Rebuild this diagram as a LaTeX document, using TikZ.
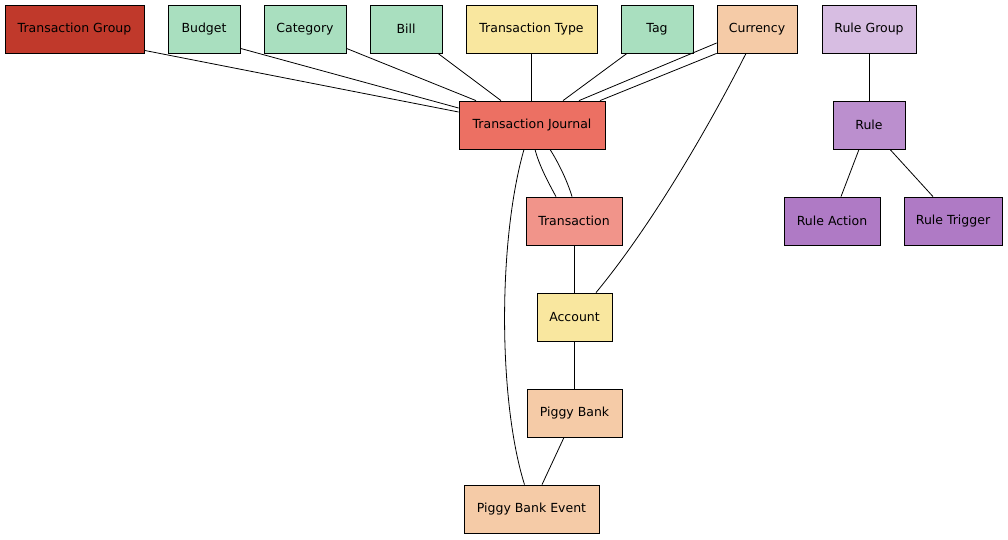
\documentclass[tikz,border=0pt]{standalone}
\usepackage{fontspec}
\setmainfont{DejaVu Sans}
\usetikzlibrary{calc}
\definecolor{cTG}{RGB}{192,57,43}
\definecolor{cGreen}{RGB}{169,223,191}
\definecolor{cYellow}{RGB}{249,231,159}
\definecolor{cOrange}{RGB}{245,203,167}
\definecolor{cTJ}{RGB}{236,112,99}
\definecolor{cTr}{RGB}{241,148,138}
\definecolor{cRG}{RGB}{215,189,226}
\definecolor{cRule}{RGB}{187,143,206}
\definecolor{cRA}{RGB}{175,122,197}
\tikzset{
  ent/.style={draw=black, line width=0.8pt, minimum height=48pt, inner sep=0pt,
    font=\fontsize{12.5}{14}\selectfont},
  link/.style={draw=black, line width=0.8pt},
}
\begin{document}
\begin{tikzpicture}[x=1pt,y=-1pt]
\useasboundingbox (0,0) rectangle (1008,539);
% top row
\node[ent, fill=cTG, minimum width=139pt] (tg) at (74.5,29) {Transaction Group};
\node[ent, fill=cGreen, minimum width=72pt] (bud) at (204,29) {Budget};
\node[ent, fill=cGreen, minimum width=82pt] (cat) at (305,29) {Category};
\node[ent, fill=cGreen, minimum width=72pt] (bill) at (406,29) {Bill};
\node[ent, fill=cYellow, minimum width=131pt] (tt) at (531.5,29) {Transaction Type};
\node[ent, fill=cGreen, minimum width=72pt] (tag) at (657,29) {Tag};
\node[ent, fill=cOrange, minimum width=80pt] (cur) at (757,29) {Currency};
\node[ent, fill=cRG, minimum width=94pt] (rg) at (869,29) {Rule Group};
% second row
\node[ent, fill=cTJ, minimum width=146pt] (tj) at (532,125) {Transaction Journal};
\node[ent, fill=cRule, minimum width=72pt] (rule) at (869,125) {Rule};
% third row
\node[ent, fill=cTr, minimum width=96pt] (tr) at (574,221) {Transaction};
\node[ent, fill=cRA, minimum width=96pt] (ra) at (832,221) {Rule Action};
\node[ent, fill=cRA, minimum width=98pt] (rt) at (953,221) {Rule Trigger};
% lower
\node[ent, fill=cYellow, minimum width=75pt] (acc) at (574.5,317) {Account};
\node[ent, fill=cOrange, minimum width=95pt] (pb) at (574.5,413) {Piggy Bank};
\node[ent, fill=cOrange, minimum width=135pt] (pbe) at (531.5,509) {Piggy Bank Event};
% edges
\draw[link] ([yshift=3pt]tg.south east) -- ([yshift=13pt]tj.west);
\draw[link] ([yshift=5pt]bud.south east) -- ([yshift=17pt]tj.west);
\draw[link] ([yshift=5pt]cat.south east) -- ([xshift=-56pt]tj.north);
\draw[link] ([xshift=32pt]bill.south) -- ([xshift=-31pt]tj.north);
\draw[link] (tt.south) -- (tt.south |- tj.north);
\draw[link] ([xshift=-30pt]tag.south) -- ([xshift=31pt]tj.north);
\draw[link] ([yshift=-14pt]cur.west) -- ([xshift=47pt]tj.north);
\draw[link] (cur.south west) -- ([xshift=68pt]tj.north);
\draw[link] ([xshift=-11pt]cur.south) .. controls (720,105) and (660,215) .. ([xshift=21.5pt]acc.north);
\draw[link] ([xshift=3pt]tj.south) .. controls (539,165) and (548,182) .. ([xshift=-18pt]tr.north);
\draw[link] ([xshift=18pt]tj.south) .. controls (558,162) and (567,180) .. ([xshift=-2pt]tr.north);
\draw[link] ([xshift=-8pt]tj.south) .. controls (498,240) and (498,400) .. ([xshift=-7pt]pbe.north);
\draw[link] (tr.south) -- (acc.north -| tr.south);
\draw[link] (acc.south) -- (pb.north);
\draw[link] ([xshift=-10.5pt]pb.south) -- ([xshift=10.5pt]pbe.north);
\draw[link] (rg.south) -- (rule.north);
\draw[link] ([xshift=-10pt]rule.south) -- ([xshift=9pt]ra.north);
\draw[link] ([xshift=21pt]rule.south) -- ([xshift=-20pt]rt.north);
\end{tikzpicture}
\end{document}
